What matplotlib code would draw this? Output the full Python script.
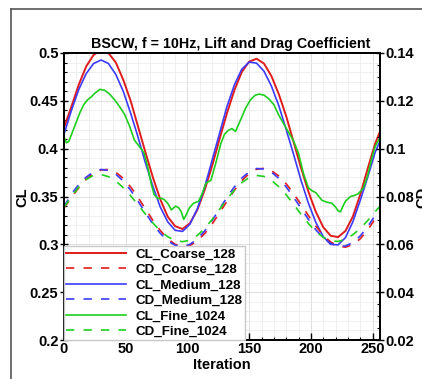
import matplotlib
matplotlib.use("Agg")
import matplotlib.pyplot as plt
from matplotlib.ticker import MultipleLocator
from matplotlib.lines import Line2D

plt.rcParams['font.family'] = ['Liberation Sans', 'DejaVu Sans']
plt.rcParams['font.weight'] = 'bold'

# ---------------- data ----------------
iters = [0, 6, 12, 18, 24, 30, 36, 42, 48, 54, 60, 66, 72, 78, 84, 90, 96, 102,
         108, 114, 120, 126, 132, 138, 144, 150, 156, 162, 168, 174, 180, 186,
         192, 198, 204, 210, 216, 222, 228, 234, 240, 246, 252, 256]

cl_coarse = [0.422, 0.444, 0.467, 0.486, 0.498, 0.503, 0.500, 0.490, 0.472, 0.450,
             0.423, 0.396, 0.370, 0.347, 0.329, 0.319, 0.316, 0.322, 0.336, 0.357,
             0.382, 0.410, 0.437, 0.461, 0.480, 0.491, 0.494, 0.489, 0.476, 0.457,
             0.434, 0.407, 0.380, 0.355, 0.334, 0.318, 0.309, 0.3075, 0.314, 0.329,
             0.352, 0.379, 0.405, 0.418]

cl_medium = [0.415, 0.440, 0.462, 0.4785, 0.489, 0.4927, 0.489, 0.4775, 0.460, 0.437,
             0.412, 0.385, 0.3605, 0.339, 0.3236, 0.3147, 0.3135, 0.321, 0.337, 0.360,
             0.388, 0.416, 0.444, 0.4666, 0.483, 0.4905, 0.4894, 0.481, 0.4655, 0.445,
             0.420, 0.394, 0.367, 0.343, 0.323, 0.308, 0.300, 0.2994, 0.307, 0.3235,
             0.346, 0.370, 0.396, 0.408]

cd_coarse = [0.0752, 0.0796, 0.0837, 0.0872, 0.0897, 0.0911, 0.0913, 0.0901, 0.0876, 0.0840,
             0.0796, 0.0748, 0.0700, 0.0658, 0.0623, 0.0600, 0.0590, 0.0595, 0.0614, 0.0645,
             0.0685, 0.0732, 0.0780, 0.0826, 0.0866, 0.0896, 0.0914, 0.0918, 0.0908, 0.0886,
             0.0853, 0.0812, 0.0767, 0.0720, 0.0676, 0.0638, 0.0610, 0.0593, 0.0588, 0.0599,
             0.0623, 0.0660, 0.0706, 0.0735]

cd_medium = [0.0757, 0.0810, 0.0850, 0.0881, 0.0903, 0.0913, 0.0909, 0.0893, 0.0865, 0.0826,
             0.0780, 0.0732, 0.0685, 0.0646, 0.0615, 0.0596, 0.0591, 0.0600, 0.0622, 0.0656,
             0.0700, 0.0748, 0.0796, 0.0840, 0.0877, 0.0903, 0.0917, 0.0915, 0.0902, 0.0876,
             0.0840, 0.0797, 0.0751, 0.0704, 0.0661, 0.0627, 0.0604, 0.0592, 0.0593, 0.0607,
             0.0635, 0.0674, 0.0720, 0.0740]

cd_fine = [0.0755, 0.0799, 0.0840, 0.0871, 0.0889, 0.0892, 0.0883, 0.0865, 0.0837, 0.0803,
           0.0765, 0.0726, 0.0689, 0.0657, 0.0632, 0.0616, 0.0611, 0.0617, 0.0637, 0.0666,
           0.0704, 0.0746, 0.0788, 0.0827, 0.0858, 0.0879, 0.0888, 0.0884, 0.0868, 0.0841,
           0.0807, 0.0767, 0.0726, 0.0687, 0.0654, 0.0629, 0.0615, 0.0612, 0.0621, 0.0640,
           0.0666, 0.0699, 0.0736, 0.0760]

iters_fine = [0, 2, 4, 7, 10, 13, 16, 19, 22, 25, 29, 33, 37, 41, 45, 49, 53, 57, 60,
              63, 65, 68, 70.5, 73, 76, 79, 81, 84, 87, 90.5, 93, 95, 97, 99, 101.5,
              105, 109, 112, 115, 119, 123, 127, 130, 133, 136, 139, 143, 147, 151,
              155, 158, 162, 166, 170, 174, 178, 182, 186, 190, 194, 198, 201, 204,
              209, 213, 217, 220, 222, 224, 226, 228, 232, 235, 238.5, 242.5, 246,
              249, 252, 256]
cl_fine = [0.412, 0.406, 0.408, 0.418, 0.428, 0.438, 0.446, 0.451, 0.454, 0.458,
           0.462, 0.461, 0.457, 0.451, 0.444, 0.436, 0.424, 0.409, 0.404, 0.399,
           0.395, 0.380, 0.364, 0.352, 0.348, 0.348, 0.347, 0.343, 0.336, 0.340,
           0.338, 0.334, 0.326, 0.331, 0.338, 0.343, 0.345, 0.353, 0.364, 0.367,
           0.385, 0.405, 0.415, 0.419, 0.421, 0.418, 0.430, 0.442, 0.451, 0.456,
           0.457, 0.456, 0.452, 0.446, 0.435, 0.426, 0.417, 0.408, 0.395, 0.374,
           0.359, 0.356, 0.354, 0.346, 0.344, 0.343, 0.339, 0.335, 0.334, 0.340,
           0.345, 0.350, 0.351, 0.353, 0.359, 0.372, 0.388, 0.402, 0.412]

labels = ['CL_Coarse_128', 'CD_Coarse_128', 'CL_Medium_128',
          'CD_Medium_128', 'CL_Fine_1024', 'CD_Fine_1024']

RED = '#e01b1b'
BLUE = '#3b3bff'
GREEN = '#1ecf1e'

# ---------------- figure ----------------
W, H = 422, 379
fig = plt.figure(figsize=(W / 100, H / 100), dpi=100)
L, R, T, B = 64, 380, 53, 340
ax = fig.add_axes([L / W, 1 - B / H, (R - L) / W, (B - T) / H])
ax2 = ax.twinx()

# outer frame (partial border)
fig.add_artist(Line2D([11 / W, 11 / W], [0, 1 - 9 / H], transform=fig.transFigure,
                      color='#555555', lw=1.2))
fig.add_artist(Line2D([11 / W, 1], [1 - 9 / H, 1 - 9 / H], transform=fig.transFigure,
                      color='#555555', lw=1.2))

lw = 1.2
dash = (0, (5, 5.5))
h1, = ax.plot(iters, cl_coarse, color=RED, lw=1.4)
h3, = ax.plot(iters, cl_medium, color=BLUE, lw=1.2)
h5, = ax.plot(iters_fine, cl_fine, color=GREEN, lw=1.2)
h2, = ax2.plot(iters, cd_coarse, color=RED, lw=lw, linestyle=dash)
h4, = ax2.plot(iters, cd_medium, color=BLUE, lw=lw, linestyle=dash)
h6, = ax2.plot(iters, cd_fine, color=GREEN, lw=lw, linestyle=dash)

ax.set_xlim(0, 256)
ax.set_ylim(0.2, 0.5)
ax2.set_ylim(0.02, 0.14)

ax.xaxis.set_major_locator(MultipleLocator(50))
ax.xaxis.set_minor_locator(MultipleLocator(10))
ax.yaxis.set_major_locator(MultipleLocator(0.05))
ax.yaxis.set_minor_locator(MultipleLocator(0.01))
ax2.yaxis.set_major_locator(MultipleLocator(0.02))
ax2.yaxis.set_minor_locator(MultipleLocator(0.005))

ax.set_yticks([0.2, 0.25, 0.3, 0.35, 0.4, 0.45, 0.5])
ax.set_yticklabels(['0.2', '0.25', '0.3', '0.35', '0.4', '0.45', '0.5'])
ax2.set_yticks([0.02, 0.04, 0.06, 0.08, 0.1, 0.12, 0.14])
ax2.set_yticklabels(['0.02', '0.04', '0.06', '0.08', '0.1', '0.12', '0.14'])

ax.grid(which='major', color='#d9d9d9', lw=0.6)
ax.grid(which='minor', color='#e9e9e9', lw=0.5)
ax.set_axisbelow(True)

for a in (ax, ax2):
    for s in a.spines.values():
        s.set_linewidth(1.3)
        s.set_color('black')

fs = 10.5
ax.tick_params(axis='x', which='major', direction='in', length=5, width=1, top=False,
               labelsize=fs, pad=1.5)
ax.tick_params(axis='x', which='minor', direction='in', length=2.5, width=0.8, top=False)
ax.tick_params(axis='y', which='major', direction='inout', length=6, width=1, right=False,
               labelsize=fs, pad=1.0)
ax.tick_params(axis='y', which='minor', direction='in', length=2.5, width=0.8, right=False)
ax2.tick_params(axis='y', which='major', direction='inout', length=6, width=1,
                labelsize=fs, pad=1.0)
ax2.tick_params(axis='y', which='minor', direction='in', length=2.5, width=0.8)

for t in ax.get_xticklabels() + ax.get_yticklabels() + ax2.get_yticklabels():
    t.set_fontweight('bold')

fig.text(222 / W, 1 - 365 / H, 'Iteration', ha='center', va='center', fontsize=10.5,
         fontweight='bold')
fig.text(22 / W, 1 - 197 / H, 'CL', ha='center', va='center', rotation=90, fontsize=10.5,
         fontweight='bold')
fig.text(422 / W, 1 - 197 / H, 'CD', ha='center', va='center', rotation=90, fontsize=10.5,
         fontweight='bold')
fig.text(231 / W, 1 - 44 / H, 'BSCW, f = 10Hz, Lift and Drag Coefficient',
         ha='center', va='center', fontsize=10.3, fontweight='bold')

lfs = 9.6
leg = ax2.legend([h1, h2, h3, h4, h5, h6], labels, loc='lower left',
                 bbox_to_anchor=(0, 0), borderaxespad=0, frameon=True, fancybox=False,
                 framealpha=1, edgecolor='#c8c8c8', prop={'size': lfs, 'weight': 'bold'},
                 handlelength=4.5, handletextpad=0.75, labelspacing=0.24, borderpad=0.15)
leg.get_frame().set_linewidth(1.0)

fig.savefig('out.png', dpi=100)
